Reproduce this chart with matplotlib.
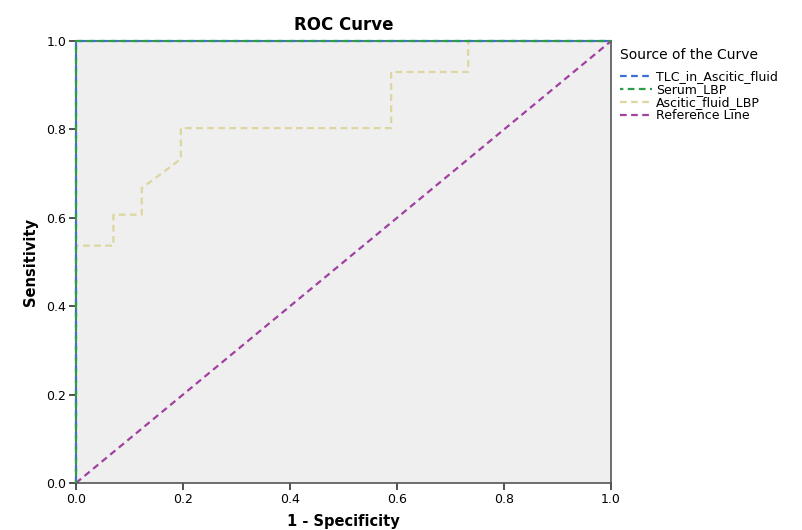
import numpy as np
import matplotlib.pyplot as plt

plt.rcParams['font.family'] = ['DejaVu Sans']

# ROC points (1 - specificity, sensitivity)
tlc_fpr = [0.0, 0.0, 1.0]
tlc_tpr = [0.0, 1.0, 1.0]
serum_fpr = [0.0, 0.0, 1.0]
serum_tpr = [0.0, 1.0, 1.0]
asc_fpr = [0.0, 0.0, 0.070, 0.070, 0.123, 0.123, 0.196, 0.196, 0.589, 0.589, 0.733, 0.733, 1.0]
asc_tpr = [0.0, 0.537, 0.537, 0.607, 0.607, 0.667, 0.733, 0.803, 0.803, 0.930, 0.930, 1.0, 1.0]
ref_x = [0.0, 1.0]
ref_y = [0.0, 1.0]

names = ['TLC_in_Ascitic_fluid', 'Serum_LBP', 'Ascitic_fluid_LBP', 'Reference Line']
colors = ['#3e6fd6', '#2a9e48', '#ddd6a0', '#a040a0']

fig = plt.figure(figsize=(8.03, 5.30), dpi=100)
ax = fig.add_axes([0.0946, 0.0887, 0.6664, 0.8339])
ax.set_facecolor('#efefef')

ls = (0, (3, 2))
ax.plot(tlc_fpr, tlc_tpr, color=colors[0], lw=1.6, ls=ls, label=names[0], clip_on=False, zorder=3)
ax.plot(serum_fpr, serum_tpr, color=colors[1], lw=1.6, ls=(1.5, (3, 2)), label=names[1], clip_on=False, zorder=3)
ax.plot(asc_fpr, asc_tpr, color=colors[2], lw=1.6, ls=ls, label=names[2], clip_on=False, zorder=2)
ax.plot(ref_x, ref_y, color=colors[3], lw=1.6, ls=ls, label=names[3], clip_on=False, zorder=2)

ax.set_xlim(0, 1)
ax.set_ylim(0, 1)
ticks = [0.0, 0.2, 0.4, 0.6, 0.8, 1.0]
ax.set_xticks(ticks)
ax.set_yticks(ticks)
ax.set_xticklabels(['%.1f' % t for t in ticks])
ax.set_yticklabels(['%.1f' % t for t in ticks])
ax.tick_params(direction='out', length=5, width=1.2, color='#333333', labelsize=9, pad=2)
for s in ax.spines.values():
    s.set_color('#555555')
    s.set_linewidth(1.2)

ax.set_title('ROC Curve', fontsize=12, fontweight='bold', pad=8)
ax.set_xlabel('1 - Specificity', fontsize=10.5, fontweight='bold', labelpad=6)
ax.set_ylabel('Sensitivity', fontsize=10.5, fontweight='bold', labelpad=6)

leg = ax.legend(title='Source of the Curve', loc='upper left', bbox_to_anchor=(1.0, 1.005),
                frameon=False, fontsize=9, title_fontsize=10, handlelength=2.6,
                handletextpad=0.3, labelspacing=0.0, borderaxespad=0.3)
leg._legend_box.align = 'left'
leg._legend_box.sep = 6

fig.savefig('out.png', dpi=100)
